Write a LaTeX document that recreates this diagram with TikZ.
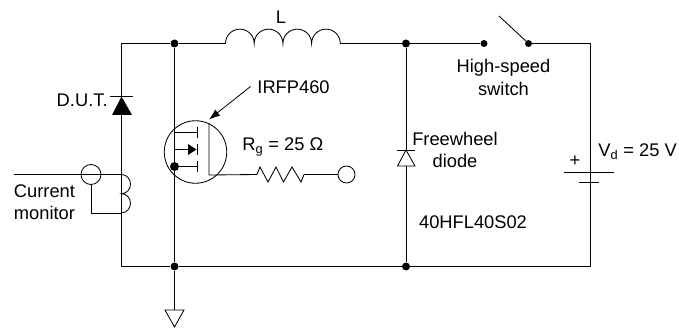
\documentclass[tikz,border=0pt]{standalone}
\usepackage{fontspec}
\setmainfont{Liberation Sans}
\usetikzlibrary{arrows.meta,positioning}
\begin{document}
\begin{tikzpicture}[x=1pt,y=-1pt,line width=0.85pt,
		dot/.style={circle,fill=black,inner sep=0pt,minimum size=8pt},
		smalldot/.style={circle,fill=black,inner sep=0pt,minimum size=7pt},
		label/.style={inner sep=0pt,font=\fontsize{18.3}{22.5}\selectfont,align=center},
		ring/.style={circle,draw,inner sep=0pt}]
		\useasboundingbox (0,0) rectangle (679,328);
		% junctions
		\coordinate (tl) at (121.5,43.5);
		\coordinate (bl) at (121.5,266.5);
		\coordinate (tr) at (590,43.5);
		\coordinate (br) at (590,266.5);
		\node[dot] (top1) at (174.5,43.5) {};
		\node[dot] (top2) at (406,43.5) {};
		\node[dot] (bot1) at (174.5,266.5) {};
		\node[dot] (bot2) at (406,266.5) {};
		\node[smalldot] (swa) at (484,43.5) {};
		\node[smalldot] (swb) at (528.5,43.5) {};
		\coordinate (swtip) at (499,16);
		\coordinate (lin) at (225.5,43.5);
		\coordinate (lout) at (340,43.5);
		% outer loop
		\draw (top1) -- (tl) -- (bl) -- (bot1) -- (bot2) -- (br) -- (tr) -- (swb);
		\draw (top1) -- (lin);
		\draw (lout) -- (top2) -- (swa);
		\draw (swb) -- (swtip);
		% inductor
		\draw (lin) arc (180:360:14.35) arc (180:360:14.35) arc (180:360:14.35) arc (180:360:14.35);
		\node[label] (lname) at (281,17) {L};
		\node[label] (swname) at (503.5,77.5) {High-speed\\switch};
		% D.U.T. diode
		\draw (110,96) -- (133,96);
		\fill (121.5,96.5) -- (112,115) -- (132,115) -- cycle;
		\node[label,anchor=east] (dutname) at (108,100) {D.U.T.};
		% mosfet
		\node[circle,draw,minimum size=62.5pt,inner sep=0pt] (fet) at (195.5,152) {};
		\draw (top1) -- (bot1);
		\node[smalldot,minimum size=9pt] (src) at (174.5,166.5) {};
		\draw (174.5,132.5) -- (197,132.5);
		\draw (src) -- (197,166.5);
		\draw (src) -- (174.5,149.5) -- (190,149.5);
		\fill (196.5,149.5) -- (188,144) -- (188,155) -- cycle;
		\draw[line width=1.1pt] (197.5,127) -- (197.5,138);
		\draw[line width=1.1pt] (197.5,144) -- (197.5,155);
		\draw[line width=1.1pt] (197.5,161) -- (197.5,172);
		\coordinate (gate) at (209,175);
		\coordinate (rin) at (257,174.5);
		\coordinate (rout) at (304,174.5);
		\draw (209,123) -- (gate) -- (rin);
		\node[label,anchor=west] (fetname) at (257,87) {IRFP460};
		\coordinate (fetlead) at (250.5,86.5);
		\draw[-{Latex[length=11pt,width=8pt]},line width=0.8pt] (fetlead) -- (209,119.5);
		% gate resistor
		\draw (rin) -- (260,167) -- (268,182) -- (276,167) -- (283.5,182) -- (292,167) -- (301,182) -- (rout);
		\node[ring,minimum size=17pt] (gterm) at (346.5,174.5) {};
		\draw (rout) -- (gterm);
		\node[label,anchor=west] (rgname) at (242,147) {R$_{\mathrm{g}}$ = 25 Ω};
		% current monitor
		\coordinate (cmin) at (13.5,174.5);
		\coordinate (cmtop) at (121.5,174.5);
		\coordinate (cmbot) at (121.5,213);
		\coordinate (cmb) at (91,213);
		\draw (cmin) -- (cmtop);
		\draw (cmbot) -- (cmb);
		\draw (cmtop) arc [start angle=-90,end angle=90,x radius=9,y radius=9.6] arc [start angle=-90,end angle=90,x radius=9,y radius=9.6];
		\node[ring,minimum size=20pt] (cmring) at (91,174.5) {};
		\draw (cmring) -- (cmb);
		\node[label,anchor=west,align=left] (cmname) at (13.5,202) {Current\\monitor};
		% freewheel diode
		\coordinate (fwa) at (406,166);
		\coordinate (fwk) at (406,150);
		\draw (top2) -- (fwk);
		\draw (fwa) -- (bot2);
		\draw (397,150) -- (415,150);
		\draw (fwk) -- (397.5,166) -- (415,166) -- cycle;
		\node[label] (fwname) at (455,150) {Freewheel\\diode};
		\node[label] (partname) at (473,222.5) {40HFL40S02};
		% battery
		\coordinate (batp) at (590,172);
		\coordinate (batn) at (590,182);
		\draw (tr) -- (batp);
		\draw (batn) -- (br);
		\draw (564,172) -- (613.5,172);
		\draw (579,182) -- (599,182);
		\node[label] (plus) at (575,161.5) {+};
		\node[label,anchor=west] (vdname) at (598,151.5) {V$_{\mathrm{d}}$ = 25 V};
		% ground
		\coordinate (gnd) at (174.5,310);
		\draw (bot1) -- (gnd);
		\draw (165,310) -- (184,310) -- (174.5,327) -- cycle;
	\end{tikzpicture}
\end{document}
